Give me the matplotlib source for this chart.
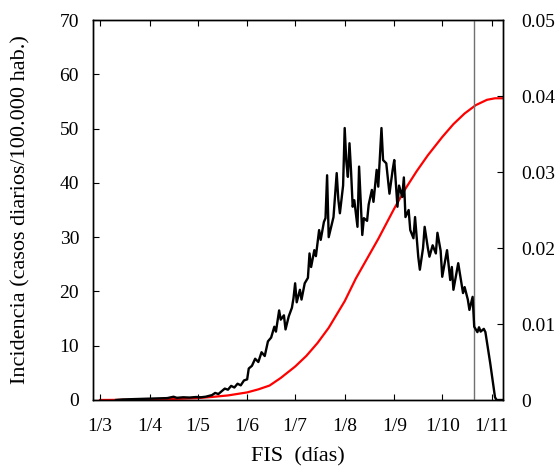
import pandas as pd
import matplotlib
matplotlib.use("Agg")
import matplotlib.pyplot as plt
from matplotlib.ticker import FuncFormatter

plt.rcParams["font.family"] = ["Liberation Serif", "DejaVu Serif"]
plt.rcParams["font.size"] = 14

# days counted from 1 March 2020
base = pd.Timestamp("2020-03-01")

# daily incidence (cases / 100.000 inhabitants), left axis
inc_days = [10, 14, 20, 25, 31, 36, 42, 46, 48, 52, 56, 60, 63, 66, 70, 72, 74, 76,
            78, 80, 82, 84, 86, 88, 90, 92, 93, 95, 97, 99, 101, 103, 105, 107, 109,
            110, 112, 113, 115, 116, 118, 120, 121, 122, 123, 125, 126, 128, 130, 131,
            132, 134, 135, 137, 138, 140, 141, 142, 143, 145, 146, 148, 149, 150, 152,
            153, 154, 155, 156, 157, 158, 159, 161, 162, 164, 165, 167, 168, 170, 171,
            173, 174, 176, 177, 179, 181, 183, 184, 186, 187, 189, 190, 191, 193, 194,
            196, 197, 199, 200, 202, 203, 205, 206, 208, 210, 211, 213, 214, 216, 217,
            219, 220, 221, 224, 226, 227, 228, 230, 231, 233, 234, 236, 237, 238, 240,
            241, 244, 247, 248, 252]
inc_vals = [0.0, 0.1, 0.15, 0.2, 0.25, 0.3, 0.35, 0.6, 0.4, 0.5, 0.45, 0.55, 0.5, 0.6,
            0.9, 1.3, 1.1, 1.6, 2.1, 1.9, 2.6, 2.3, 3.0, 2.7, 3.6, 3.8, 5.8, 6.3, 7.6,
            7.0, 8.8, 8.1, 10.8, 11.5, 13.5, 12.6, 16.5, 14.8, 15.6, 13.0, 15.4, 17.0,
            18.8, 21.5, 18.0, 20.3, 18.5, 21.5, 22.5, 27.0, 24.5, 27.6, 26.5, 31.3,
            29.5, 32.8, 33.5, 41.4, 30.0, 32.5, 33.7, 41.8, 37.0, 34.4, 39.5, 50.1,
            44.0, 41.1, 47.3, 42.0, 35.6, 36.8, 31.9, 43.0, 30.4, 33.5, 33.0, 36.0,
            38.7, 36.5, 42.4, 39.3, 50.1, 44.2, 43.6, 38.0, 42.4, 44.2, 35.6, 39.5,
            37.4, 41.0, 33.7, 35.0, 31.3, 29.8, 33.7, 26.4, 24.0, 28.0, 31.9, 28.0,
            26.4, 28.5, 27.0, 30.8, 27.5, 22.7, 26.0, 27.6, 22.1, 24.5, 20.3, 25.2,
            21.5, 19.7, 20.8, 18.5, 16.6, 19.0, 13.5, 12.5, 13.4, 12.6, 13.1, 12.5,
            6.8, 0.5, 0.0, 0.0]

# cumulative fraction, right axis
cum_days = [0, 14, 31, 45, 61, 70, 80, 92, 99, 106, 113, 122, 129, 136, 143, 153,
            160, 167, 174, 184, 191, 198, 205, 214, 221, 228, 235, 242, 247, 252]
cum_vals = [0.0, 0.00002, 0.00006, 0.00012, 0.00025, 0.0004, 0.0006, 0.0010,
            0.0014, 0.0019, 0.0029, 0.0044, 0.0058, 0.0075, 0.0095, 0.0130, 0.0160,
            0.0186, 0.0212, 0.0252, 0.0278, 0.0301, 0.0322, 0.0346, 0.0363, 0.0377,
            0.0388, 0.0395, 0.0397, 0.0397]

month_labels = ["1/3", "1/4", "1/5", "1/6", "1/7", "1/8", "1/9", "1/10", "1/11"]
cutoff_day = 234

inc_dates = base + pd.to_timedelta(inc_days, unit="D")
cum_dates = base + pd.to_timedelta(cum_days, unit="D")

fig = plt.figure(figsize=(5.58, 4.69), dpi=100)
ax = fig.add_axes([93 / 558, 1 - 400 / 469, 410 / 558, 380 / 469])
ax2 = ax.twinx()

ax.plot(inc_dates, inc_vals, color="black", lw=1.7, zorder=3)
ax2.plot(cum_dates, cum_vals, color="red", lw=1.6)
ax.axvline(base + pd.Timedelta(days=cutoff_day), color="#707070", lw=1.0)

ax.set_zorder(ax2.get_zorder() + 1)
ax.patch.set_visible(False)

ax.set_xlim(base - pd.Timedelta(days=4.4), base + pd.Timedelta(days=252))
ax.set_ylim(0, 70)
ax2.set_ylim(0, 0.05)
ax.set_yticks(range(0, 71, 10))
ax2.set_yticks([0, 0.01, 0.02, 0.03, 0.04, 0.05])
ax2.yaxis.set_major_formatter(FuncFormatter(lambda v, p: f"{v:g}"))

ticks = pd.date_range("2020-03-01", "2020-11-01", freq="MS")
ax.set_xticks(ticks)
ax.set_xticklabels(month_labels)

ax.tick_params(axis="x", direction="in", top=True, length=4, width=0.8, pad=13)
ax.tick_params(axis="y", direction="in", length=4, width=0.8, pad=10)
ax2.tick_params(axis="y", direction="in", length=4, width=0.8, pad=13)
for a in (ax, ax2):
    for s in a.spines.values():
        s.set_linewidth(1.0)

ax.set_xlabel("FIS  (días)", fontsize=16, labelpad=9)
ax.set_ylabel("Incidencia (casos diarios/100.000 hab.)", fontsize=16, labelpad=21)

fig.savefig("out.png", dpi=100)
